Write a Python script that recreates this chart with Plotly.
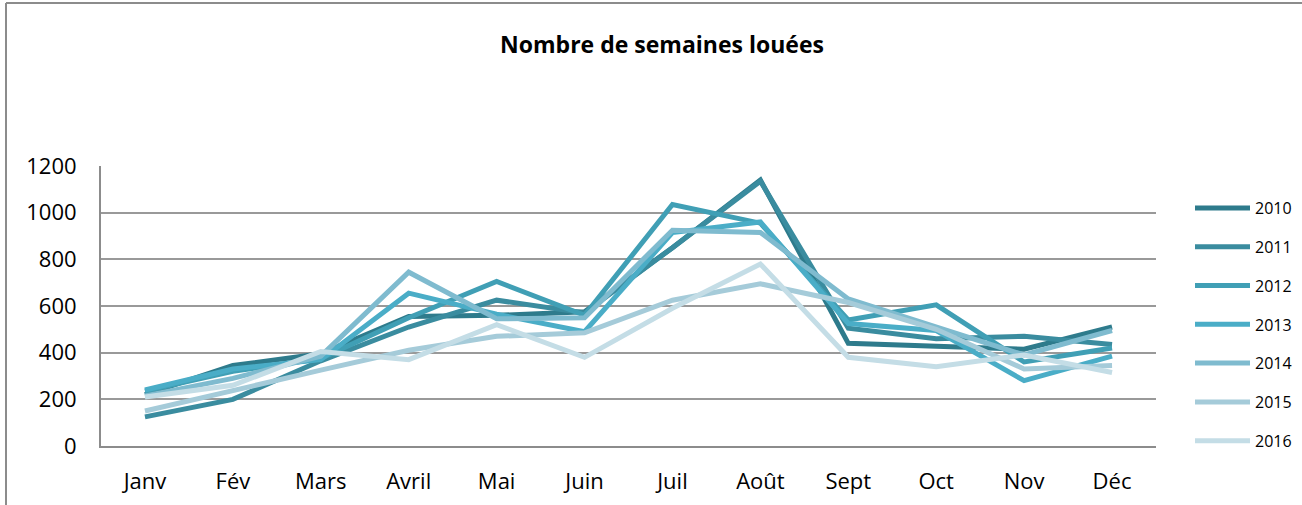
import plotly.graph_objects as go

months = ["Janv", "Fév", "Mars", "Avril", "Mai", "Juin", "Juil", "Août", "Sept", "Oct", "Nov", "Déc"]

y2010 = [220, 345, 395, 555, 560, 575, 850, 1140, 440, 425, 415, 510]
y2011 = [125, 200, 365, 510, 625, 570, 850, 1135, 505, 460, 470, 435]
y2012 = [235, 320, 375, 550, 705, 560, 1035, 955, 540, 605, 360, 420]
y2013 = [240, 330, 370, 655, 565, 490, 915, 960, 525, 495, 280, 385]
y2014 = [215, 290, 385, 745, 545, 550, 925, 915, 630, 510, 390, 495]
y2015 = [150, 240, 325, 410, 470, 485, 625, 695, 615, 500, 330, 345]
y2016 = [210, 260, 405, 370, 520, 380, 590, 780, 380, 340, 390, 315]

years = ["2010", "2011", "2012", "2013", "2014", "2015", "2016"]
series = [y2010, y2011, y2012, y2013, y2014, y2015, y2016]
colors = ["#2E7B8C", "#3A8C9F", "#409FB5", "#4AADC7", "#7FBBCF", "#A5CBD9", "#C4DDE6"]

fig = go.Figure()
for name, vals, col in zip(years, series, colors):
    fig.add_trace(go.Scatter(
        x=months, y=vals, name=name, mode="lines", legendgroup=name,
        line=dict(color=col, width=5),
    ))

fig.update_layout(
    width=1302, height=505,
    margin=dict(l=101, r=146, t=166, b=59, autoexpand=False),
    paper_bgcolor="white", plot_bgcolor="white",
    font=dict(family="Open Sans, Arial, sans-serif", color="black"),
    title=dict(text="<b>Nombre de semaines louées</b>", x=662/1302, xanchor="center",
               y=1 - 45/505, yanchor="middle", font=dict(size=23, color="black")),
    showlegend=True,
    legend=dict(xref="container", yref="container", x=1190/1302, xanchor="left",
                y=1 - 191/505, yanchor="top", maxheight=400,
                font=dict(size=16, color="black"), tracegroupgap=15,
                itemwidth=55, bgcolor="rgba(0,0,0,0)"),
    xaxis=dict(type="category", showgrid=False, showline=True, linecolor="#8c8c8c", linewidth=2,
               ticks="", tickfont=dict(size=22), ticklabelstandoff=15, range=[-0.5, 11.5],
               zeroline=False),
    yaxis=dict(range=[0, 1200], tickvals=[0, 200, 400, 600, 800, 1000, 1200], showgrid=True,
               gridcolor="#999999", gridwidth=2, showline=True, linecolor="#8c8c8c", linewidth=2,
               ticks="", tickfont=dict(size=22), ticklabelstandoff=18, zeroline=False),
    shapes=[
        dict(type="line", xref="paper", yref="paper", x0=(6 - 101) / 1055, x1=(1310 - 101) / 1055,
             y0=(446 - 3) / 280, y1=(446 - 3) / 280, line=dict(color="#8c8c8c", width=2)),
        dict(type="line", xref="paper", yref="paper", x0=(6 - 101) / 1055, x1=(6 - 101) / 1055,
             y0=(446 - 3) / 280, y1=(446 - 510) / 280, line=dict(color="#8c8c8c", width=2)),
    ],
)

fig.write_html("out.html", config={"displayModeBar": False},
               post_script="document.body.style.margin='0';document.body.style.overflow='hidden';")
